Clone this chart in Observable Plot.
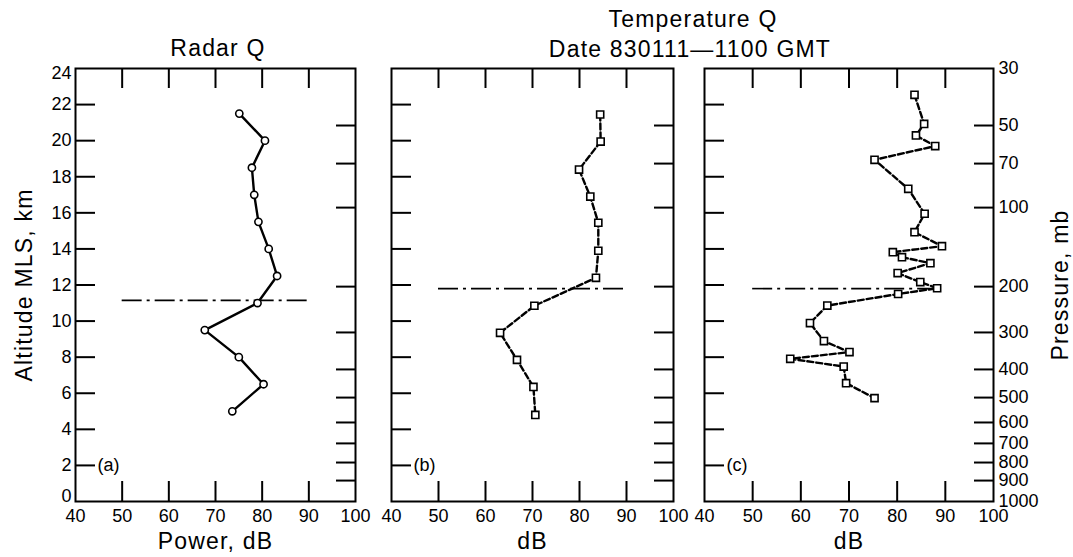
<!DOCTYPE html>
<html>
<head>
<meta charset="utf-8">
<script src="https://cdn.jsdelivr.net/npm/d3@7"></script>
<script src="https://cdn.jsdelivr.net/npm/@observablehq/plot@0.6"></script>
<style>
  html, body { margin: 0; padding: 0; background: #fff; }
  #wrap { position: relative; width: 1073px; height: 557px; overflow: hidden; }
  #wrap svg { position: absolute; left: 0; top: 0; }
</style>
</head>
<body>
<div id="wrap"></div>
<script>
// ---------- data ----------
// (a) Radar Q: power (dB) vs altitude (km)
const altA   = [21.5, 20.0, 18.5, 17.0, 15.5, 14.0, 12.5, 11.0, 9.5, 8.0, 6.5, 5.0];
const powerA = [75.1, 80.6, 77.8, 78.3, 79.2, 81.4, 83.2, 79.0, 67.7, 75.0, 80.3, 73.6];
// (b) Temperature Q, smoothed profile
const altB   = [21.45, 19.95, 18.4, 16.9, 15.45, 13.9, 12.4, 10.85, 9.35, 7.85, 6.35, 4.8];
const tempB  = [84.4, 84.5, 79.9, 82.3, 84.0, 84.0, 83.5, 70.4, 63.1, 66.7, 70.2, 70.6];
// (c) Temperature Q, full-resolution profile
const altC   = [22.54, 20.93, 20.29, 19.7, 18.94, 17.33, 15.95, 14.93, 14.15, 13.82, 13.54, 13.21,
                12.66, 12.16, 11.82, 11.5, 10.86, 9.89, 8.89, 8.28, 7.91, 7.48, 6.56, 5.73];
const tempC  = [83.6, 85.6, 83.9, 87.9, 75.3, 82.3, 85.7, 83.6, 89.3, 79.1, 81.0, 86.9,
                80.1, 84.8, 88.3, 80.2, 65.5, 61.9, 64.8, 70.1, 57.8, 68.9, 69.4, 75.3];
// tropopause (dash-dot) lines per panel
const tropoAlt = [11.15, 11.8, 11.8];
const tropoX1  = [50, 50, 50];
const tropoX2  = [90, 90, 88];
// axes
const xTicks        = [40, 50, 60, 70, 80, 90, 100];
const xInnerTicks   = [50, 60, 70, 80, 90];
const altTicks      = [0, 2, 4, 6, 8, 10, 12, 14, 16, 18, 20, 22, 24];
const altInnerTicks = [2, 4, 6, 8, 10, 12, 14, 16, 18, 20, 22];
const pressureLabels = [30, 50, 70, 100, 200, 300, 400, 500, 600, 700, 800, 900, 1000];
const pressureAlt    = [24, 20.84, 18.73, 16.29, 11.91, 9.37, 7.32, 5.76, 4.38, 3.22, 2.16, 1.16, 0];
const panelTags  = ["(a)", "(b)", "(c)"];
const xLabels    = ["Power, dB", "dB", "dB"];
const yLabel     = "Altitude MLS, km";
const y2Label    = "Pressure, mb";
const titleTexts = ["Radar Q", "Temperature Q", "Date 830111\u20141100 GMT"];

// ---------- layout ----------
const W = 1073, H = 557, TOP = 68, BOTTOM = 501;
const FONT = "'Liberation Sans', Arial, Helvetica, sans-serif";
const frames = [[75, 355], [391, 673], [704, 993]];
const pressureInnerAlt = pressureAlt.filter(a => a > 0 && a < 24);
const yMin = d3.min(altTicks), yMax = d3.max(altTicks);

const seriesA = altA.map((a, i) => ({alt: a, v: powerA[i]}));
const seriesB = altB.map((a, i) => ({alt: a, v: tempB[i]}));
const seriesC = altC.map((a, i) => ({alt: a, v: tempC[i]}));
const series = [seriesA, seriesB, seriesC];

function panel(k) {
  const [left, right] = frames[k];
  const fw = right - left, fh = BOTTOM - TOP;
  const data = series[k];
  const isRadar = k === 0;
  const marks = [
    // inward ticks
    Plot.tickY(altInnerTicks, {y: d => d, insetRight: fw - 20, strokeWidth: 2}),
    Plot.tickY(pressureInnerAlt, {y: d => d, insetLeft: fw - 19, strokeWidth: 2}),
    Plot.tickX(xInnerTicks, {x: d => d, insetBottom: fh - 20, strokeWidth: 2}),
    Plot.tickX(xInnerTicks, {x: d => d, insetTop: fh - 20, strokeWidth: 2}),
    // x tick labels and label
    Plot.axisX(xTicks, {anchor: "bottom", tickSize: 0, tickPadding: 8, fontSize: 18, label: null}),
    Plot.axisX([], {anchor: "bottom", tickSize: 0, fontSize: 23, label: xLabels[k],
                    labelAnchor: "center", labelArrow: "none", labelOffset: 47}),
    // tropopause
    Plot.ruleY([0], {y: () => tropoAlt[k], x1: () => tropoX1[k], x2: () => tropoX2[k],
                     stroke: "black", strokeWidth: 1.6, strokeDasharray: "20,5,3,5"}),
    // profile
    Plot.line(data, {x: "v", y: "alt", stroke: "black", strokeWidth: 2.4,
                     strokeDasharray: isRadar ? null : "6,3"}),
    Plot.dot(data, {x: "v", y: "alt", r: isRadar ? 3.6 : 4, symbol: isRadar ? "circle" : "square",
                    fill: "white", stroke: "black", strokeWidth: 1.6}),
    Plot.frame({stroke: "black", strokeWidth: 2}),
    Plot.text([panelTags[k]], {text: d => d, frameAnchor: "bottom-left", dx: 22, dy: -36,
                               textAnchor: "start", lineAnchor: "middle", fontSize: 18})
  ];
  if (k === 0) {
    const inner = altTicks.filter(a => a > yMin && a < yMax);
    marks.push(Plot.axisY(inner, {anchor: "left", tickSize: 0, tickPadding: 4, fontSize: 18, label: null}));
    marks.push(Plot.axisY([yMin], {anchor: "left", tickSize: 0, tickPadding: 4, fontSize: 18, label: null, dy: -5}));
    marks.push(Plot.axisY([yMax], {anchor: "left", tickSize: 0, tickPadding: 4, fontSize: 18, label: null, dy: 5}));
    marks.push(Plot.axisY([], {anchor: "left", tickSize: 0, fontSize: 23, label: yLabel,
                               labelAnchor: "center", labelArrow: "none", labelOffset: 60}));
  }
  if (k === 2) {
    marks.push(Plot.axisY(pressureAlt, {anchor: "right", tickSize: 0, tickPadding: 5, fontSize: 18, label: null,
                                        tickFormat: d => String(pressureLabels[pressureAlt.indexOf(d)])}));
    marks.push(Plot.axisY([], {anchor: "right", tickSize: 0, fontSize: 23, label: y2Label,
                               labelAnchor: "center", labelArrow: "none", labelOffset: 74}));
  }
  return Plot.plot({
    width: W, height: H,
    marginLeft: left, marginRight: W - right, marginTop: TOP, marginBottom: H - BOTTOM,
    style: {fontFamily: FONT, fontSize: "18px", background: "transparent", color: "black", overflow: "visible"},
    x: {domain: [40, 100], axis: null},
    y: {domain: [yMin, yMax], axis: null},
    marks
  });
}

const wrap = document.getElementById("wrap");
for (let k = 0; k < 3; ++k) {
  const svg = panel(k);
  svg.querySelectorAll('[aria-label$="axis label"] text').forEach(t => t.setAttribute("letter-spacing", "1.2"));
  wrap.appendChild(svg);
}

// titles
const tsvg = d3.select(wrap).append("svg").attr("width", W).attr("height", H)
  .style("font-family", FONT).style("font-size", "23px").attr("letter-spacing", "1.2");
tsvg.append("text").attr("x", 218).attr("y", 56).attr("text-anchor", "middle").text(titleTexts[0]);
tsvg.append("text").attr("x", 693).attr("y", 27).attr("text-anchor", "middle").text(titleTexts[1]);
tsvg.append("text").attr("x", 690).attr("y", 57).attr("text-anchor", "middle").text(titleTexts[2]);
</script>
</body>
</html>
